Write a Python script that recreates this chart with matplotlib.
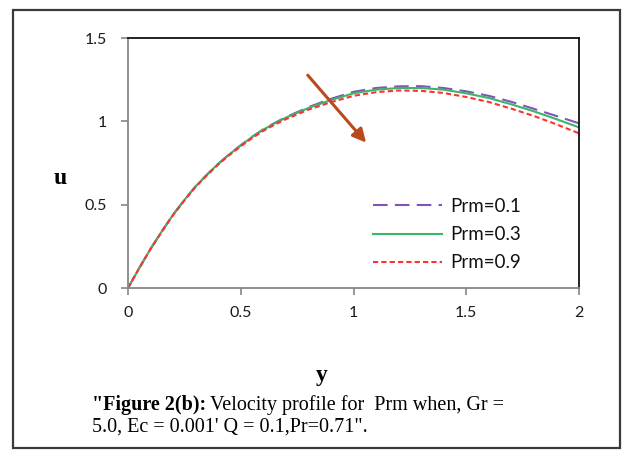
"""Velocity profile u(y) for several magnetic Prandtl numbers (Prm)."""

import matplotlib.pyplot as plt
from matplotlib.patches import Rectangle

# values
y_vals = [0.0, 0.05, 0.1, 0.15, 0.2, 0.25, 0.3, 0.35, 0.4, 0.45, 0.5, 0.55, 0.6,
          0.65, 0.7, 0.8, 0.9, 1.0, 1.1, 1.2, 1.3, 1.4, 1.5, 1.6, 1.7, 1.8, 1.9, 2.0]
u_prm01 = [0, 0.120, 0.235, 0.340, 0.44, 0.528, 0.61, 0.680, 0.745, 0.803, 0.857,
           0.907, 0.952, 0.990, 1.025, 1.085, 1.135, 1.177, 1.200, 1.210, 1.211,
           1.200, 1.180, 1.153, 1.117, 1.075, 1.032, 0.988]
u_prm03 = [0, 0.120, 0.235, 0.340, 0.44, 0.528, 0.61, 0.680, 0.745, 0.803, 0.855,
           0.906, 0.950, 0.988, 1.022, 1.080, 1.128, 1.168, 1.190, 1.200, 1.200,
           1.190, 1.168, 1.140, 1.102, 1.060, 1.013, 0.964]
u_prm09 = [0, 0.119, 0.234, 0.338, 0.438, 0.525, 0.607, 0.676, 0.741, 0.798, 0.850,
           0.899, 0.943, 0.980, 1.013, 1.070, 1.115, 1.153, 1.175, 1.185, 1.183,
           1.170, 1.146, 1.116, 1.076, 1.032, 0.982, 0.928]
labels = ["Prm=0.1", "Prm=0.3", "Prm=0.9"]
x_ticks = [0, 0.5, 1, 1.5, 2]
x_ticklabels = ["0", "0.5", "1", "1.5", "2"]
y_ticks = [0, 0.5, 1, 1.5]
y_ticklabels = ["0", "0.5", "1", "1.5"]

W, H = 624, 450
fig = plt.figure(figsize=(W / 100, H / 100), dpi=100)
fig.patch.set_facecolor("white")

# outer frame round the whole figure
fig.add_artist(Rectangle((13 / W, 1 - 448 / H), 607 / W, 438 / H,
                         transform=fig.transFigure, fill=False,
                         edgecolor="#3a3a3a", lw=1.6))

ax = fig.add_axes([128 / W, 1 - 288 / H, 451 / W, 250 / H])

ax.plot(y_vals, u_prm01, color="#7F55B5", lw=1.5, dashes=(7, 3.5), label=labels[0])
ax.plot(y_vals, u_prm03, color="#3DB36B", lw=1.5, label=labels[1])
ax.plot(y_vals, u_prm09, color="#FF3030", lw=1.5, dashes=(2.5, 1.5), label=labels[2])

ax.set_xlim(0, 2)
ax.set_ylim(0, 1.5)
ax.set_xticks(x_ticks, x_ticklabels)
ax.set_yticks(y_ticks, y_ticklabels)
ax.tick_params(direction="out", length=5, width=1.2, color="#868686",
               labelsize=11.5, labelcolor="#1a1a1a")
ax.tick_params(axis="y", pad=10)
ax.tick_params(axis="x", pad=8)
for lbl in ax.get_xticklabels() + ax.get_yticklabels():
    lbl.set_family("Lato")
for side in ("left", "bottom"):
    ax.spines[side].set_color("#868686")
    ax.spines[side].set_linewidth(1.3)
for side in ("top", "right"):
    ax.spines[side].set_color("#111111")
    ax.spines[side].set_linewidth(1.3)

# trend arrow
ax.annotate("", xy=(1.056, 0.872), xytext=(0.797, 1.277),
            arrowprops=dict(arrowstyle="-|>", color="#B84A1E", lw=2.2,
                            mutation_scale=20, shrinkA=0, shrinkB=0))

leg = ax.legend(loc="upper left", bbox_to_anchor=(356 / W, 1 - 181 / H),
                bbox_transform=fig.transFigure, frameon=False,
                handlelength=3.7, handletextpad=0.45, labelspacing=0.6,
                prop={"family": "Lato", "size": 13.5})
for t in leg.get_texts():
    t.set_color("#111111")

# axis labels
fig.text(60 / W, 1 - 178 / H, "u", family="Liberation Serif", weight="bold",
         size=17, ha="center", va="center")
fig.text(322 / W, 1 - 376 / H, "y", family="Liberation Serif", weight="bold",
         size=17, ha="center", va="center")

# caption, bold lead-in followed by regular text
cap_x = 92 / W
cap_size = 14.5
t1 = fig.text(cap_x, 1 - 405 / H, "\"Figure 2(b):", family="Liberation Serif",
              weight="bold", size=cap_size, va="center")
fig.canvas.draw()
bb = t1.get_window_extent()
fig.text(bb.x1 / W + 4 / W, 1 - 405 / H, "Velocity profile for  Prm when, Gr =",
         family="Liberation Serif", size=cap_size, va="center")
fig.text(cap_x, 1 - 427 / H, "5.0, Ec = 0.001' Q = 0.1,Pr=0.71\".",
         family="Liberation Serif", size=cap_size, va="center")

fig.savefig("out.png", dpi=100)
